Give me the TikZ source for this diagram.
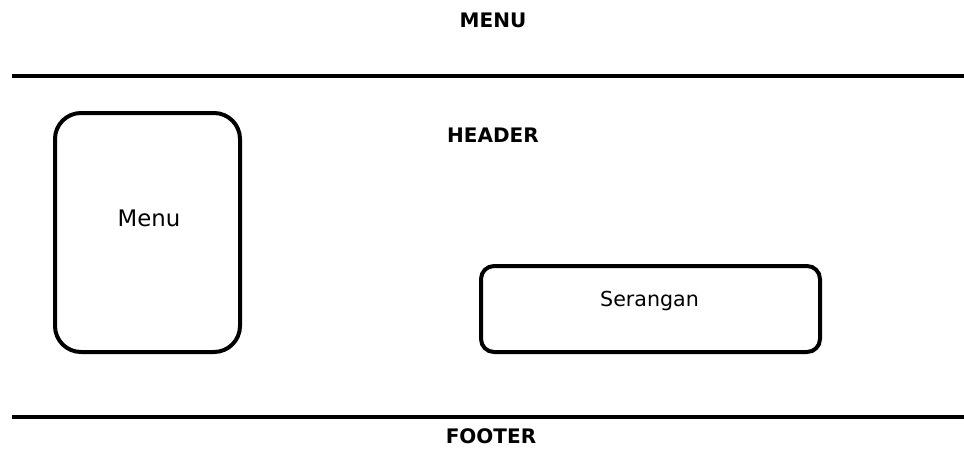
\documentclass[tikz,border=0pt]{standalone}
\usepackage{fontspec}
\setmainfont{DejaVu Sans}
\begin{document}
\begin{tikzpicture}[x=1pt,y=-1pt,
  heading/.style={font=\fontsize{20}{24}\selectfont\bfseries, inner sep=0pt},
  label/.style={font=\fontsize{#1}{24}\selectfont, inner sep=0pt},
  label/.default=20.6,
  panel/.style={draw=black, line width=4pt, rounded corners=#1, fill=white},
  divider/.style={line width=4pt}]
  \useasboundingbox (0,0) rectangle (964,450);

  % page titles
  \node[heading] (menutitle) at (493,20.5) {MENU};
  \node[heading] (header) at (493,135) {HEADER};
  \node[heading] (footer) at (491,436) {FOOTER};

  % horizontal dividers
  \coordinate (topL) at (12,75.7);
  \coordinate (topR) at (964,75.7);
  \coordinate (botL) at (12,416.5);
  \coordinate (botR) at (964,416.5);
  \draw[divider] (topL) -- (topR);
  \draw[divider] (botL) -- (botR);

  % content panels
  \draw[panel=26pt] (55,113) rectangle (240,352);
  \node[label=22.8] (menu) at (149,218) {Menu};
  \draw[panel=13pt] (481,266) rectangle (820,352);
  \node[label] (serangan) at (649.5,301) {Serangan};
\end{tikzpicture}
\end{document}
